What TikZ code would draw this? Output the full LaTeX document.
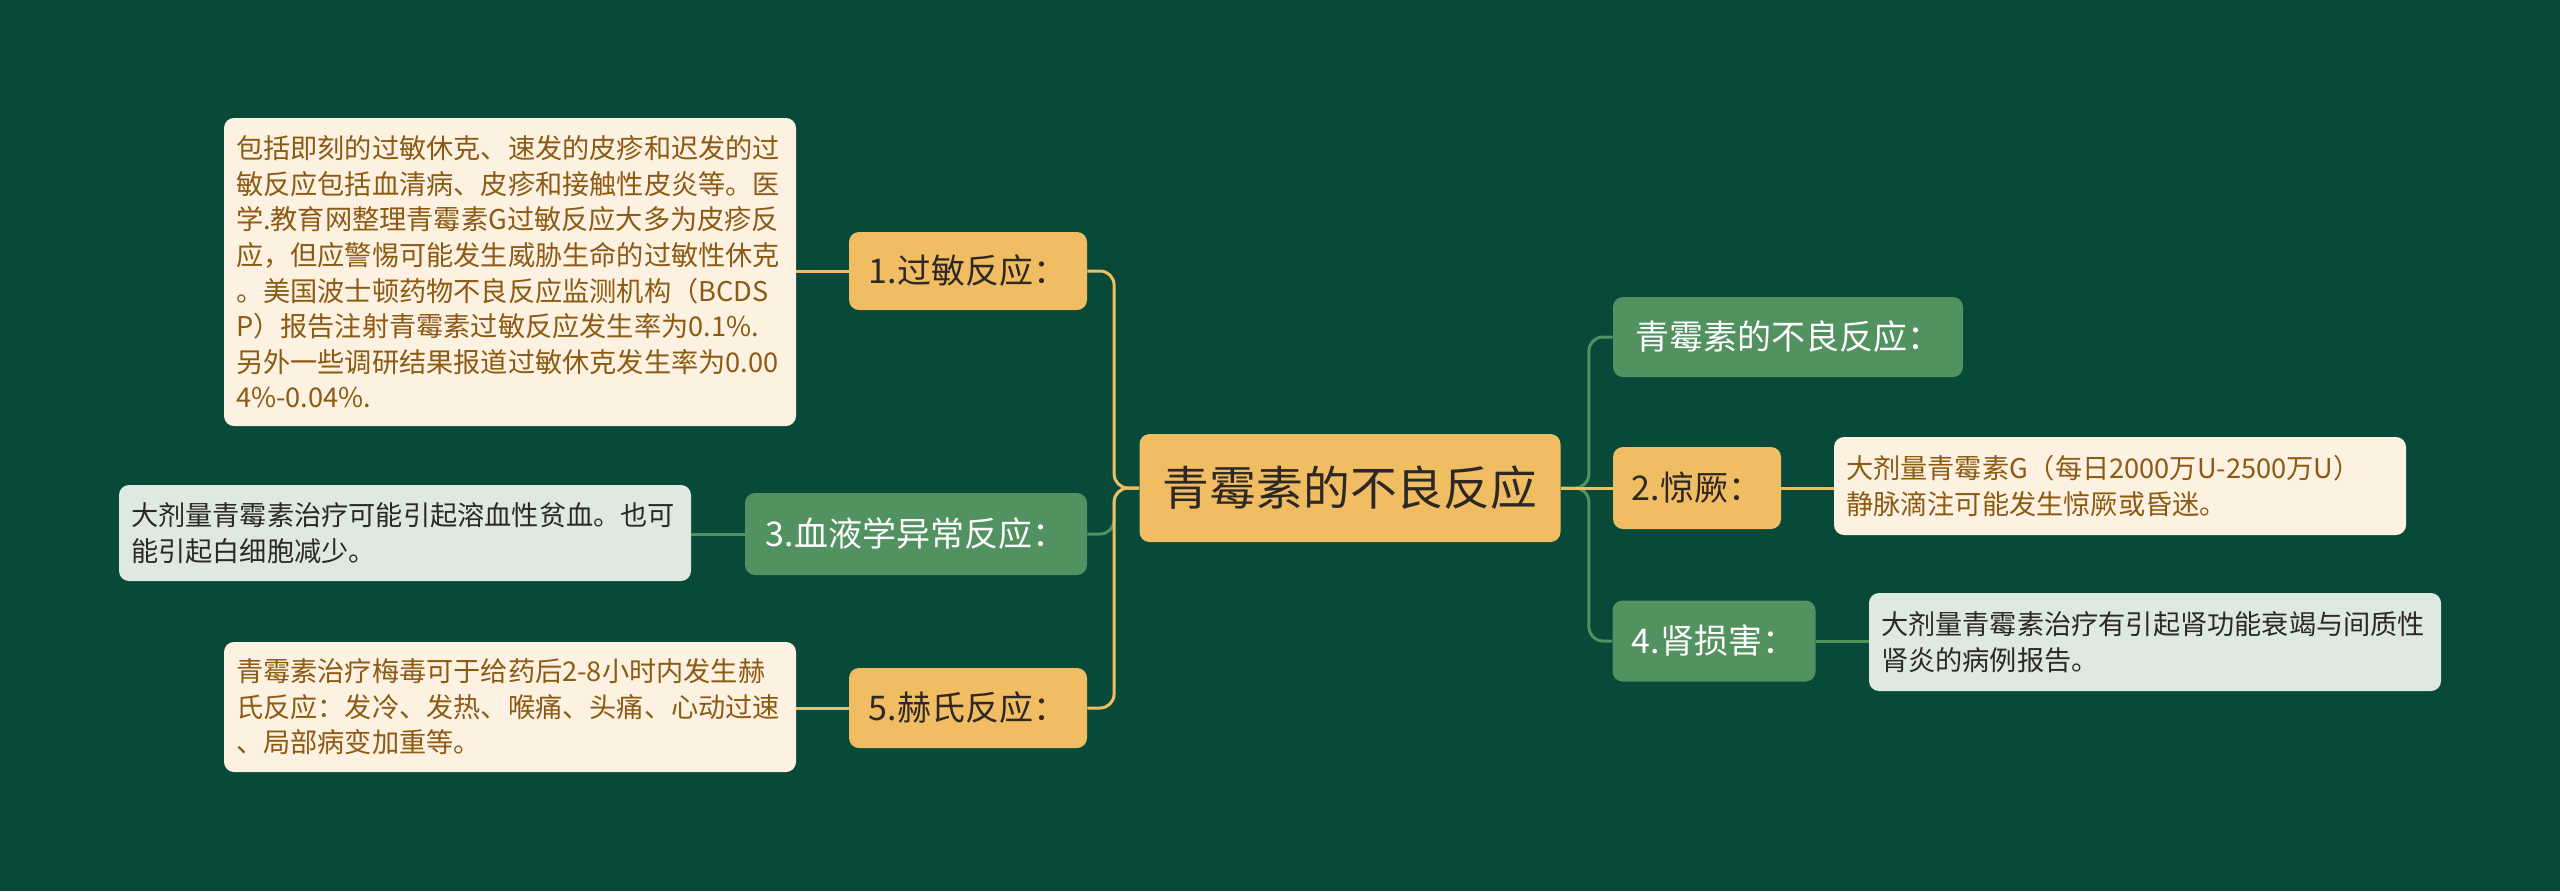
\documentclass[tikz,border=0pt]{standalone}
\usepackage{fontspec}
\setmainfont{Noto Sans CJK SC}
\definecolor{bg}{RGB}{8,73,57}
\definecolor{orn}{RGB}{241,189,98}
\definecolor{grn}{RGB}{82,145,96}
\definecolor{cream}{RGB}{253,242,226}
\definecolor{lgrn}{RGB}{222,233,224}
\definecolor{brown}{RGB}{140,90,18}
\definecolor{dtxt}{RGB}{45,40,35}
\begin{document}
\begin{tikzpicture}[x=0.5pt,y=-0.5pt,
  nbase/.style={rounded corners=5pt, inner sep=0pt, align=center},
  mainnode/.style={nbase, fill=orn, text=dtxt, font=\fontsize{23.4pt}{28pt}\selectfont},
  onode/.style={nbase, fill=orn, text=dtxt, font=\fontsize{17pt}{20pt}\selectfont},
  gnode/.style={nbase, fill=grn, text=white, font=\fontsize{17pt}{20pt}\selectfont},
  tbase/.style={rounded corners=5pt, inner xsep=6pt, inner ysep=0pt, align=left, text width=274pt, font=\fontsize{13.6pt}{17.8pt}\selectfont},
  ctext/.style={tbase, fill=cream, text=brown},
  gtext/.style={tbase, fill=lgrn, text=dtxt},
  oline/.style={draw=orn, line width=1.5pt, rounded corners=7pt},
  gline/.style={draw=grn, line width=1.5pt, rounded corners=7pt}]
\fill[bg] (0,0) rectangle (2560,891);
\useasboundingbox (0,0) rectangle (2560,891);

% main
\node[mainnode, minimum width=210.5pt, minimum height=54pt] (c) at (1350,488) {青霉素的不良反应};

% left branches
\node[onode, minimum width=119pt, minimum height=39pt] (n1) at (968,271) {1.过敏反应：};
\node[gnode, minimum width=171pt, minimum height=41pt] (n3) at (916,534) {3.血液学异常反应：};
\node[onode, minimum width=119pt, minimum height=40pt] (n5) at (968,708) {5.赫氏反应：};

% right branches
\node[gnode, minimum width=175pt, minimum height=40pt] (r0) at (1788,337) {青霉素的不良反应：};
\node[onode, minimum width=84pt, minimum height=41pt] (n2) at (1697,488) {2.惊厥：};
\node[gnode, minimum width=101.5pt, minimum height=40.5pt] (n4) at (1714,641) {4.肾损害：};

% text boxes
\node[ctext, minimum height=154pt] (t1) at (510,272) {包括即刻的过敏休克、速发的皮疹和迟发的过\\敏反应包括血清病、皮疹和接触性皮炎等。医\\学.教育网整理青霉素G过敏反应大多为皮疹反\\应，但应警惕可能发生威胁生命的过敏性休克\\。美国波士顿药物不良反应监测机构（BCDS\\P）报告注射青霉素过敏反应发生率为0.1\%.\\另外一些调研结果报道过敏休克发生率为0.00\\4\%-0.04\%.};
\node[gtext, minimum height=48pt] (t3) at (405,533) {大剂量青霉素治疗可能引起溶血性贫血。也可\\能引起白细胞减少。};
\node[ctext, minimum height=65pt] (t5) at (510,707) {青霉素治疗梅毒可于给药后2-8小时内发生赫\\氏反应：发冷、发热、喉痛、头痛、心动过速\\、局部病变加重等。};
\node[ctext, minimum height=49pt] (t2) at (2120,486) {大剂量青霉素G（每日2000万U-2500万U）\\静脉滴注可能发生惊厥或昏迷。};
\node[gtext, minimum height=49pt] (t4) at (2155,642) {大剂量青霉素治疗有引起肾功能衰竭与间质性\\肾炎的病例报告。};

% connectors, left
\path[gline] (c.west) -- ++(-25,0) |- (n3.east);
\path[oline] (c.west) -- ++(-25,0) |- (n1.east);
\path[oline] (c.west) -- ++(-25,0) |- (n5.east);
% connectors, right
\path[gline] (c.east) -- ++(28,0) |- (r0.west);
\path[gline] (c.east) -- ++(28,0) |- (n4.west);
\path[oline] (c.east) -- (n2.west);
% to text boxes
\path[oline] (n1.west) -- (t1.east |- n1.west);
\path[gline] (n3.west) -- (t3.east |- n3.west);
\path[oline] (n5.west) -- (t5.east |- n5.west);
\path[oline] (n2.east) -- (t2.west |- n2.east);
\path[gline] (n4.east) -- (t4.west |- n4.east);
\end{tikzpicture}
\end{document}
